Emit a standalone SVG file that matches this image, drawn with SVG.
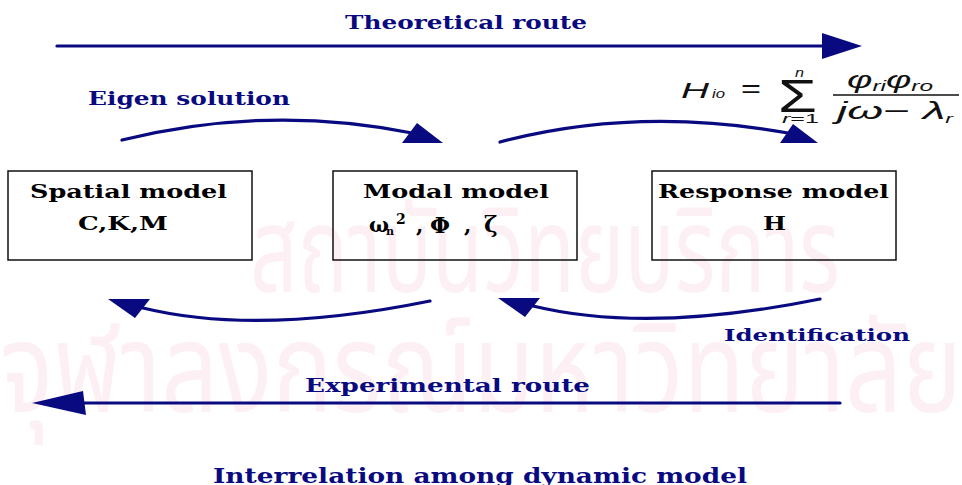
<svg xmlns="http://www.w3.org/2000/svg" width="962" height="485" viewBox="0 0 962 485">
<style>
.wm{font-family:"Noto Sans Thai","Noto Sans","DejaVu Sans",sans-serif;fill:#fdf0f4}
.lbl{font-family:"DejaVu Serif","Liberation Serif",serif;font-weight:bold;fill:#0a0a80}
.bt{font-family:"DejaVu Serif","Liberation Serif",serif;font-weight:bold;fill:#000}
.box{fill:none;stroke:#111;stroke-width:1.5}
.ln{fill:none;stroke:#0a0a80;stroke-width:3.2;stroke-linecap:round}
.hd{fill:#0a0a80}
.eq{font-family:"Liberation Sans",Arial,sans-serif;font-style:italic;fill:#111}
.eqn{font-family:"Liberation Sans",Arial,sans-serif;fill:#111}
</style>
<rect width="962" height="485" fill="#fff"/>
<g id="watermark">
<text class="wm" x="250" y="292" font-size="120" textLength="590" lengthAdjust="spacingAndGlyphs">สถาบันวิทยบริการ</text>
<text class="wm" x="0" y="412" font-size="125" textLength="962" lengthAdjust="spacingAndGlyphs">จุฬาลงกรณ์มหาวิทยาลัย</text>
</g>
<g id="connectors">
<line class="ln" x1="57" y1="46" x2="828" y2="46"/>
<polygon class="hd" points="822,33 862,46 822,59"/>
<path class="ln" d="M122,140 Q268,104 412,133"/>
<polygon class="hd" points="417,123 402,143 443,143"/>
<path class="ln" d="M500,142 Q637,106 788,133"/>
<polygon class="hd" points="793,124 780,143 818,143"/>
<path class="ln" d="M430,301 Q258,336 143,308"/>
<polygon class="hd" points="108,299 150,299 135,318"/>
<path class="ln" d="M820,299 Q648,334 533,306"/>
<polygon class="hd" points="498,298 540,298 525,317"/>
<line class="ln" x1="80" y1="403" x2="840" y2="403"/>
<polygon class="hd" points="32,403 83,391 86,415"/>
</g>
<g id="labels">
<text class="lbl" x="345" y="29" font-size="19" textLength="242" lengthAdjust="spacingAndGlyphs">Theoretical route</text>
<text class="lbl" x="88" y="105" font-size="18" textLength="202" lengthAdjust="spacingAndGlyphs">Eigen solution</text>
<text class="lbl" x="724" y="341" font-size="17" textLength="186" lengthAdjust="spacingAndGlyphs">Identification</text>
<text class="lbl" x="305" y="392" font-size="18" textLength="285" lengthAdjust="spacingAndGlyphs">Experimental route</text>
<text class="lbl" x="213" y="483" font-size="21" textLength="534" lengthAdjust="spacingAndGlyphs">Interrelation among dynamic model</text>
</g>
<g id="formula">
<text class="eq" x="681" y="98" font-size="22" textLength="28" lengthAdjust="spacingAndGlyphs">H</text>
<text class="eq" x="712" y="98" font-size="12" textLength="13" lengthAdjust="spacingAndGlyphs">io</text>
<text class="eqn" x="741" y="97" font-size="26" textLength="20" lengthAdjust="spacingAndGlyphs">=</text>
<text class="eqn" x="778" y="112" font-size="46" textLength="39" lengthAdjust="spacingAndGlyphs">Σ</text>
<text class="eq" x="795" y="77" font-size="12" textLength="9" lengthAdjust="spacingAndGlyphs">n</text>
<text class="eq" x="782" y="123" font-size="13" textLength="37" lengthAdjust="spacingAndGlyphs">r<tspan font-style="normal">=1</tspan></text>
<text class="eq" x="847" y="88" font-size="24" textLength="86" lengthAdjust="spacingAndGlyphs">φ<tspan font-size="15" dy="3">ri</tspan><tspan dy="-3">φ</tspan><tspan font-size="15" dy="3">ro</tspan></text>
<line x1="833" y1="95" x2="959" y2="95" stroke="#111" stroke-width="1.5"/>
<text class="eq" x="837" y="119" font-size="24" textLength="116" lengthAdjust="spacingAndGlyphs">jω<tspan font-style="normal">− </tspan>λ<tspan font-size="12" dy="4">r</tspan></text>
</g>
<g id="spatial">
<rect class="box" x="8" y="171" width="244" height="89"/>
<text class="bt" x="30" y="198" font-size="19" textLength="197" lengthAdjust="spacingAndGlyphs">Spatial model</text>
<text class="bt" x="78" y="230" font-size="19" textLength="90" lengthAdjust="spacingAndGlyphs">C,K,M</text>
</g>
<g id="modal">
<rect class="box" x="333" y="171" width="244" height="89"/>
<text class="bt" x="363" y="198" font-size="19" textLength="186" lengthAdjust="spacingAndGlyphs">Modal model</text>
<text class="bt" font-size="21"><tspan x="369" y="232">ω</tspan><tspan x="386" y="235" font-size="11">n</tspan><tspan x="396" y="224" font-size="14">2</tspan><tspan x="416" y="232">,</tspan><tspan x="430" y="233" font-size="23">Φ</tspan><tspan x="464" y="232">,</tspan><tspan x="484" y="232" font-size="23">ζ</tspan></text>
</g>
<g id="response">
<rect class="box" x="652" y="171" width="244" height="89"/>
<text class="bt" x="658" y="198" font-size="19" textLength="231" lengthAdjust="spacingAndGlyphs">Response model</text>
<text class="bt" x="763" y="230" font-size="19" textLength="23" lengthAdjust="spacingAndGlyphs">H</text>
</g>
</svg>
